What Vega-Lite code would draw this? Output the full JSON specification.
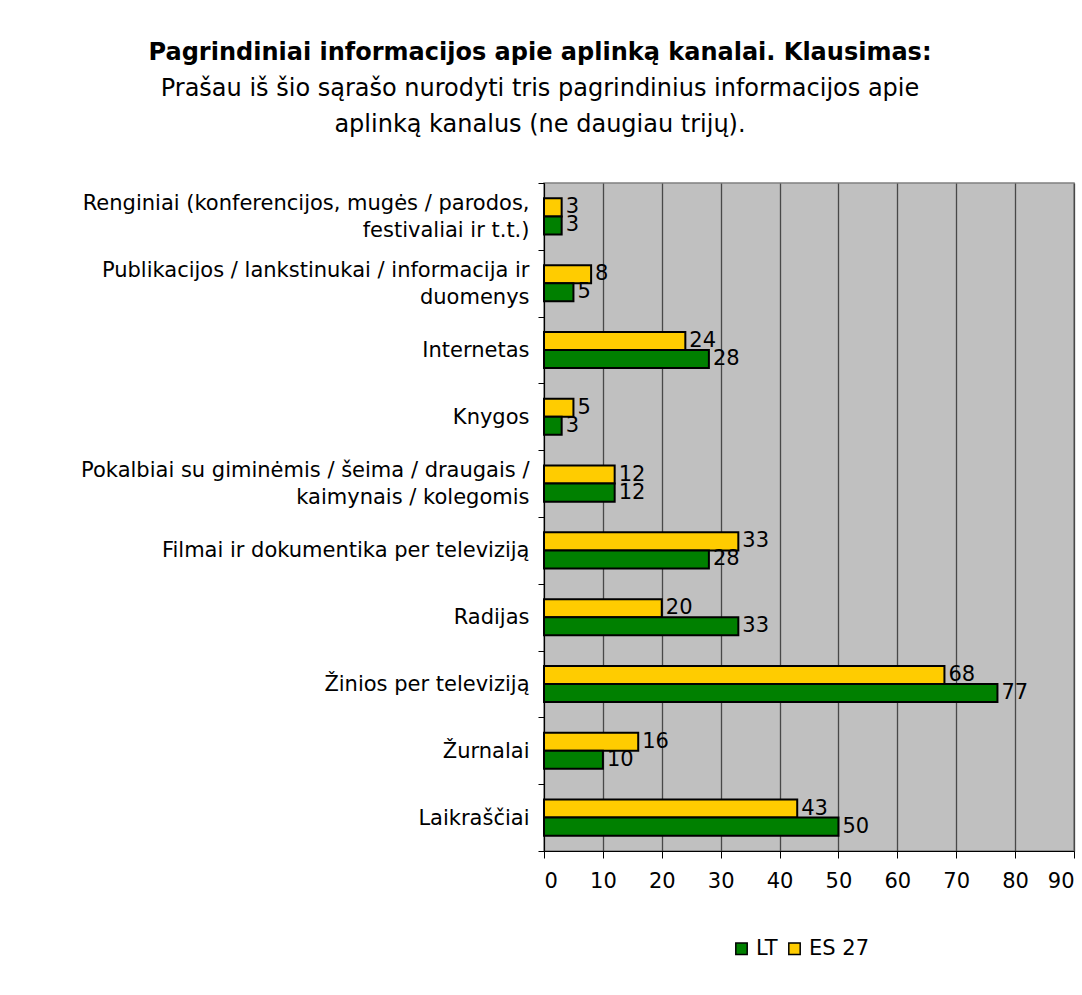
{
  "$schema": "https://vega.github.io/schema/vega-lite/v6.json",
  "width": 530,
  "height": 668,
  "autosize": {"type": "none"},
  "padding": {"left": 544, "top": 183, "right": 8, "bottom": 144},
  "background": "white",
  "title": {
    "text": "Pagrindiniai informacijos apie aplinką kanalai. Klausimas:",
    "subtitle": ["Prašau iš šio sąrašo nurodyti tris pagrindinius informacijos apie", "aplinką kanalus (ne daugiau trijų)."],
    "anchor": "middle",
    "dx": -269,
    "font": "DejaVu Sans",
    "fontSize": 24,
    "fontWeight": "bold",
    "color": "black",
    "subtitleFont": "DejaVu Sans",
    "subtitleFontSize": 24,
    "subtitleColor": "black",
    "subtitleLineHeight": 36,
    "subtitlePadding": 12,
    "offset": 35
  },
  "config": {
    "font": "DejaVu Sans",
    "view": {"fill": "#C0C0C0", "stroke": "#808080", "strokeWidth": 1.5}
  },
  "data": {
    "values": [
      {"cat": "Renginiai (konferencijos, mugės / parodos,|\u200b|festivaliai ir t.t.)", "series": "ES 27", "value": 3},
      {"cat": "Renginiai (konferencijos, mugės / parodos,|\u200b|festivaliai ir t.t.)", "series": "LT", "value": 3},
      {"cat": "Publikacijos / lankstinukai / informacija ir|\u200b|duomenys", "series": "ES 27", "value": 8},
      {"cat": "Publikacijos / lankstinukai / informacija ir|\u200b|duomenys", "series": "LT", "value": 5},
      {"cat": "\u200b|Internetas", "series": "ES 27", "value": 24},
      {"cat": "\u200b|Internetas", "series": "LT", "value": 28},
      {"cat": "\u200b|Knygos", "series": "ES 27", "value": 5},
      {"cat": "\u200b|Knygos", "series": "LT", "value": 3},
      {"cat": "Pokalbiai su giminėmis / šeima / draugais /|\u200b|kaimynais / kolegomis", "series": "ES 27", "value": 12},
      {"cat": "Pokalbiai su giminėmis / šeima / draugais /|\u200b|kaimynais / kolegomis", "series": "LT", "value": 12},
      {"cat": "\u200b|Filmai ir dokumentika per televiziją", "series": "ES 27", "value": 33},
      {"cat": "\u200b|Filmai ir dokumentika per televiziją", "series": "LT", "value": 28},
      {"cat": "\u200b|Radijas", "series": "ES 27", "value": 20},
      {"cat": "\u200b|Radijas", "series": "LT", "value": 33},
      {"cat": "\u200b|Žinios per televiziją", "series": "ES 27", "value": 68},
      {"cat": "\u200b|Žinios per televiziją", "series": "LT", "value": 77},
      {"cat": "\u200b|Žurnalai", "series": "ES 27", "value": 16},
      {"cat": "\u200b|Žurnalai", "series": "LT", "value": 10},
      {"cat": "\u200b|Laikraščiai", "series": "ES 27", "value": 43},
      {"cat": "\u200b|Laikraščiai", "series": "LT", "value": 50}
    ]
  },
  "encoding": {
    "y": {
      "field": "cat",
      "type": "nominal",
      "sort": null,
      "scale": {"paddingInner": 0, "paddingOuter": 0},
      "axis": {
        "title": null,
        "labelExpr": "split(datum.label, '|')",
        "labelFontSize": 21,
        "labelColor": "black",
        "labelLineHeight": 13.5,
        "labelLimit": 600,
        "labelPadding": 9,
        "labelOffset": -13,
        "tickBand": "extent",
        "tickSize": 6,
        "tickColor": "black",
        "domainColor": "black",
        "grid": false
      }
    },
    "yOffset": {
      "field": "series",
      "type": "nominal",
      "sort": ["ES 27", "LT"],
      "scale": {"paddingInner": 0, "paddingOuter": 0.85}
    },
    "x": {
      "field": "value",
      "type": "quantitative",
      "scale": {"domain": [0, 90], "nice": false},
      "axis": {
        "title": null,
        "values": [0, 10, 20, 30, 40, 50, 60, 70, 80, 90],
        "labelFontSize": 21,
        "labelColor": "black",
        "labelPadding": 12,
        "tickSize": 7,
        "tickColor": "black",
        "domainColor": "black",
        "grid": true,
        "gridColor": "#484848",
        "gridOpacity": 1,
        "gridWidth": 1.3
      }
    }
  },
  "layer": [
    {
      "mark": {"type": "bar", "stroke": "black", "strokeWidth": 2},
      "encoding": {
        "color": {
          "field": "series",
          "type": "nominal",
          "scale": {"domain": ["LT", "ES 27"], "range": ["#008000", "#FFCC00"]},
          "legend": {
            "title": null,
            "orient": "none",
            "direction": "horizontal",
            "legendX": 187,
            "legendY": 755,
            "symbolType": "square",
            "symbolSize": 130,
            "symbolStrokeColor": "black",
            "symbolStrokeWidth": 1.5,
            "labelFontSize": 21,
            "labelColor": "black",
            "labelOffset": 4,
            "columnPadding": 6,
            "symbolOffset": 0
          }
        }
      }
    },
    {
      "mark": {"type": "text", "align": "left", "baseline": "middle", "dx": 4, "fontSize": 21, "color": "black"},
      "encoding": {
        "text": {"field": "value", "type": "quantitative"}
      }
    }
  ]
}
